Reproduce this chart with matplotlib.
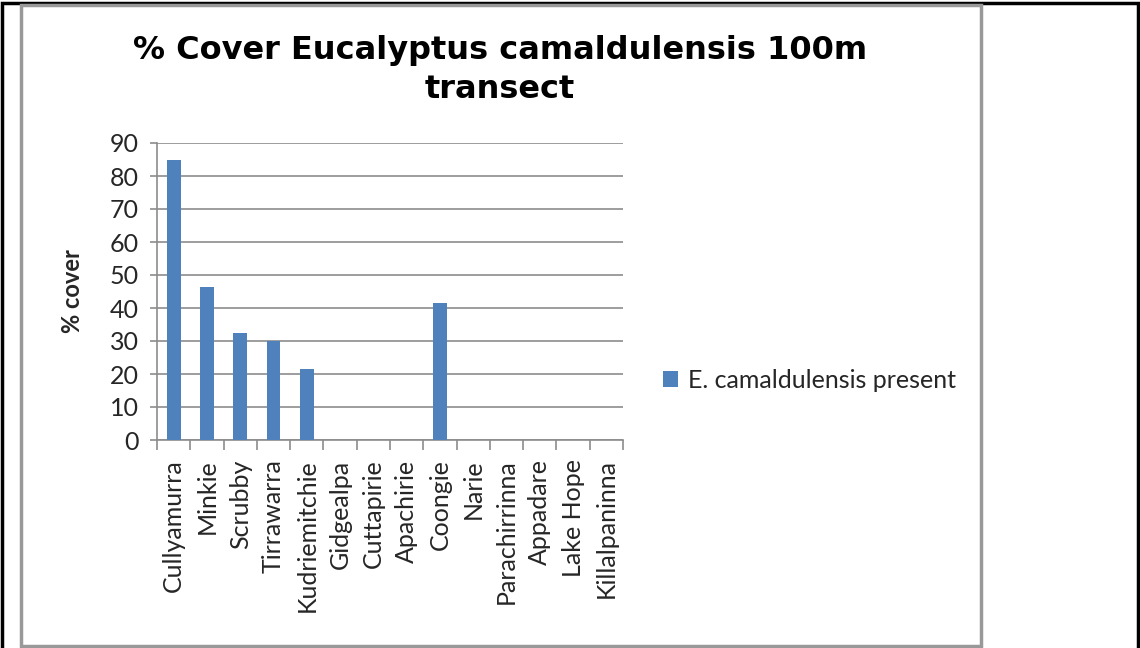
import matplotlib.pyplot as plt
import matplotlib.patches as patches
import numpy as np

# Data
sites = ["Cullyamurra", "Minkie", "Scrubby", "Tirrawarra", "Kudriemitchie",
         "Gidgealpa", "Cuttapirie", "Apachirie", "Coongie", "Narie",
         "Parachirrinna", "Appadare", "Lake Hope", "Killalpaninna"]
cover = [85, 46.3, 32.3, 30, 21.4, 0, 0, 0, 41.5, 0, 0, 0, 0, 0]
y_ticks = list(range(0, 91, 10))

BAR = '#4F81BD'
GRID = '#8c8c8c'
TXT = '#262626'
FONT = 'Lato'

fig = plt.figure(figsize=(11.4, 6.48), dpi=100)

# outer black frame and inner grey chart-area frame
fig.add_artist(patches.Rectangle((2 / 1140, -0.01), 1136 / 1140, 1.0 - 2.5 / 648 + 0.01,
                                 transform=fig.transFigure, fill=False,
                                 edgecolor='black', linewidth=2.5))
fig.add_artist(patches.Rectangle((20.5 / 1140, 1 - 646 / 648), 960 / 1140, 641 / 648,
                                 transform=fig.transFigure, fill=False,
                                 edgecolor='#999999', linewidth=2.5))

ax = fig.add_axes([157 / 1140, 1 - 440 / 648, 466 / 1140, 297 / 648])
x = np.arange(len(sites))
ax.bar(x, cover, width=0.42, color=BAR, zorder=3, label="E. camaldulensis present")

ax.set_xlim(-0.5, len(sites) - 0.5)
ax.set_ylim(0, 90)
ax.set_yticks(y_ticks)
ax.set_yticklabels([str(v) for v in y_ticks], fontsize=18, color=TXT, family=FONT)
ax.yaxis.grid(True, color=GRID, linewidth=1.2, zorder=0)

ax.set_xticks(x)
ax.set_xticklabels(sites, rotation=90, fontsize=18, color=TXT, family=FONT)
ax.set_xticks(np.arange(-0.5, len(sites)), minor=True)
ax.tick_params(axis='x', which='major', length=0, pad=14)
ax.tick_params(axis='x', which='minor', length=7, color=GRID, width=1.2, direction='out')
ax.tick_params(axis='y', length=5, color=GRID, width=1.2, pad=8)

for side in ['top', 'right']:
    ax.spines[side].set_visible(False)
for side in ['left', 'bottom']:
    ax.spines[side].set_color(GRID)
    ax.spines[side].set_linewidth(1.2)

ax.set_ylabel("% cover", fontsize=17, fontweight='bold', color=TXT, family=FONT)
ax.yaxis.set_label_coords(84 / 1140, 1 - 291 / 648, transform=fig.transFigure)

fig.text(500 / 1140, 1 - 70 / 648, "% Cover Eucalyptus camaldulensis 100m\ntransect",
         ha='center', va='center', fontsize=23, fontweight='bold',
         family='DejaVu Sans', linespacing=1.35)

ax.legend(loc='center left', bbox_to_anchor=(640 / 1140, 1 - 380 / 648),
          bbox_transform=fig.transFigure, frameon=False,
          prop={'family': FONT, 'size': 18}, handlelength=0.6, handleheight=0.6,
          handletextpad=0.4, labelcolor=TXT)

fig.savefig("out.png", dpi=100)
